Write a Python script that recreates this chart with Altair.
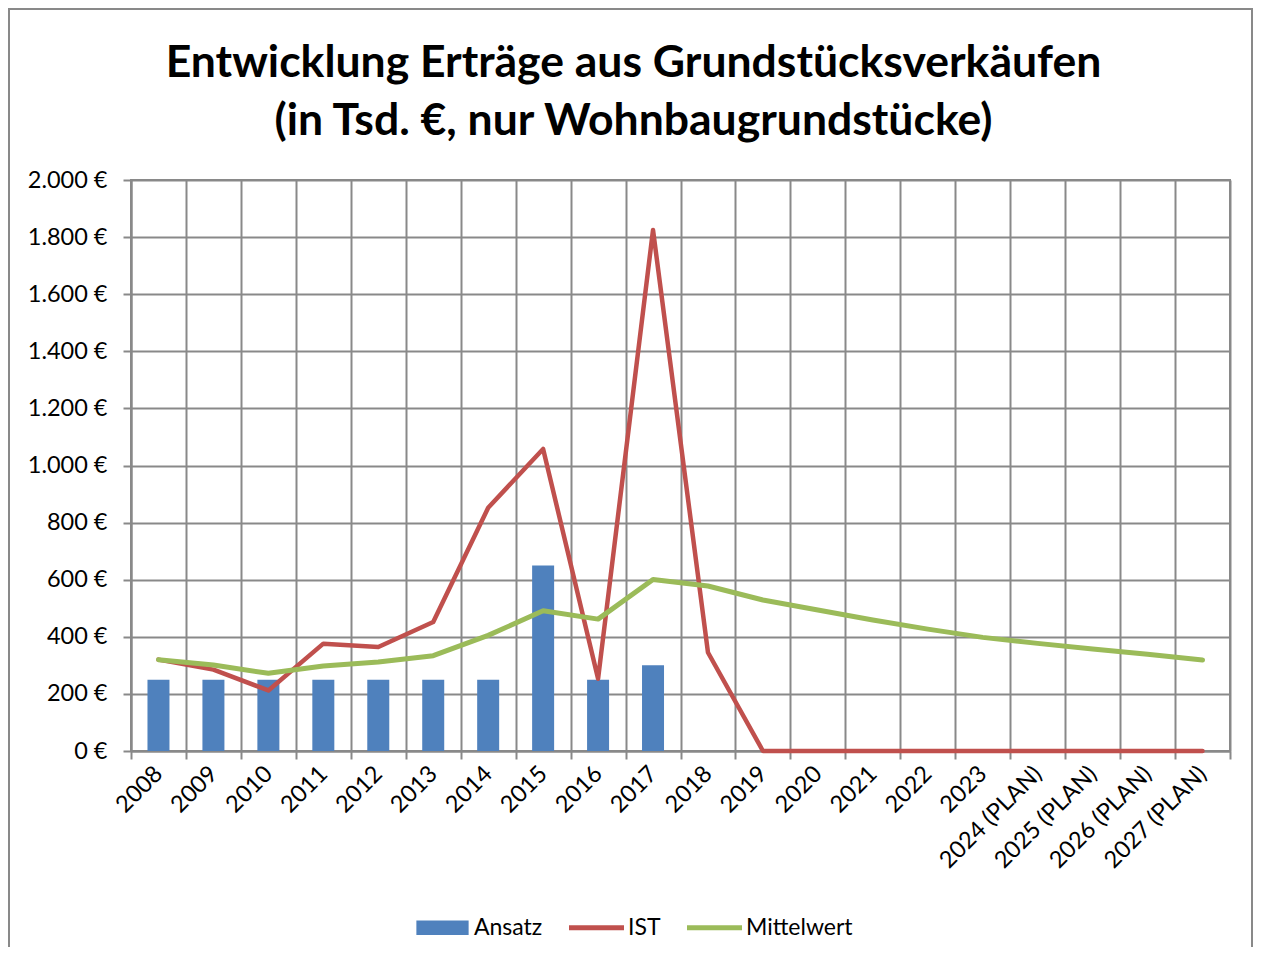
import altair as alt
import pandas as pd

jahre = ["2008", "2009", "2010", "2011", "2012", "2013", "2014", "2015", "2016", "2017",
         "2018", "2019", "2020", "2021", "2022", "2023",
         "2024 (PLAN)", "2025 (PLAN)", "2026 (PLAN)", "2027 (PLAN)"]
ansatz = [250, 250, 250, 250, 250, 250, 250, 650, 250, 300,
          None, None, None, None, None, None, None, None, None, None]
ist = [320, 285, 212, 376, 364, 452, 852, 1058, 253, 1825,
       345, 0, 0, 0, 0, 0, 0, 0, 0, 0]
mittelwert = [320, 301, 272, 298, 312, 334, 405, 491, 462, 601,
              578, 529, 494, 459, 427, 398, 377, 357, 339, 319]

serien = ["Ansatz", "IST", "Mittelwert"]
farben = ["#4F81BD", "#C0504D", "#9BBB59"]
symbole = ["M-0.95,-0.26H0.95V0.26H-0.95Z",
           "M-1,-0.09H1V0.09H-1Z",
           "M-1,-0.09H1V0.09H-1Z"]

df = pd.DataFrame({"Jahr": jahre, "Ansatz": ansatz, "IST": ist, "Mittelwert": mittelwert})
legend_df = pd.DataFrame({"Serie": serien})

FONT = "Lato"
GRID = "#898989"

x_enc = alt.X("Jahr:N", sort=jahre, title=None,
              scale=alt.Scale(paddingInner=0, paddingOuter=0),
              axis=alt.Axis(labelAngle=315, labelAlign="right", labelBaseline="middle",
                            tickBand="extent", grid=True, gridColor=GRID, gridWidth=2,
                            tickSize=8, tickColor=GRID, tickWidth=2,
                            domainColor=GRID, domainWidth=2,
                            labelPadding=11, labelFontSize=23.5, labelFont=FONT,
                            labelColor="#000000"))

y_axis = alt.Axis(values=list(range(0, 2001, 200)), grid=True, gridColor=GRID, gridWidth=2,
                  tickSize=8, tickColor=GRID, tickWidth=2, domainColor=GRID, domainWidth=2,
                  labelPadding=16, labelFontSize=23.5, labelFont=FONT, labelColor="#000000",
                  labelExpr="replace(format(datum.value, ',d'), ',', '.') + ' €'")
y_scale = alt.Scale(domain=[0, 2000], nice=False)

base = alt.Chart(df)

bars = base.transform_filter("isValid(datum.Ansatz)").mark_bar(size=22, color=farben[0]).encode(
    x=x_enc,
    y=alt.Y("Ansatz:Q", scale=y_scale, axis=y_axis, title=None),
)

ist_line = base.mark_line(color=farben[1], strokeWidth=4.5, strokeCap="round",
                          strokeJoin="round").encode(
    x=x_enc, y=alt.Y("IST:Q", scale=y_scale, title=None))

mittel_line = base.mark_line(color=farben[2], strokeWidth=5, strokeCap="round",
                             strokeJoin="round").encode(
    x=x_enc, y=alt.Y("Mittelwert:Q", scale=y_scale, title=None))

leg = dict(title=None, orient="none", legendX=284, legendY=720,
           direction="horizontal", symbolSize=3025,
           symbolOpacity=1, symbolStrokeWidth=0,
           labelFontSize=23, labelFont=FONT, labelColor="#000000",
           labelOffset=4, columnPadding=26)

legend_layer = alt.Chart(legend_df).mark_point(filled=True, opacity=0, size=3025).encode(
    color=alt.Color("Serie:N", scale=alt.Scale(domain=serien, range=farben),
                    legend=alt.Legend(**leg)),
    shape=alt.Shape("Serie:N", scale=alt.Scale(domain=serien, range=symbole),
                    legend=alt.Legend(**leg)),
)

frame = alt.Chart(legend_df).mark_rect(fill=None, stroke=GRID, strokeWidth=2).encode(
    x=alt.value(-122), x2=alt.value(1121), y=alt.value(-171), y2=alt.value(820)
)

chart = alt.layer(frame, bars, ist_line, mittel_line, legend_layer).properties(
    width=1099, height=571,
    title=alt.TitleParams(
        text=["Entwicklung Erträge aus Grundstücksverkäufen",
              "(in Tsd. €, nur Wohnbaugrundstücke)"],
        font=FONT, fontSize=44.5, fontWeight="bold", color="#000000",
        lineHeight=58, anchor="middle", dx=-47, offset=-136),
    padding={"left": 123, "top": 172, "right": 24, "bottom": 196},
    autosize="none",
).configure_view(stroke=GRID, strokeWidth=2)

chart.save("out.html", embed_options={"renderer": "svg", "actions": False})
